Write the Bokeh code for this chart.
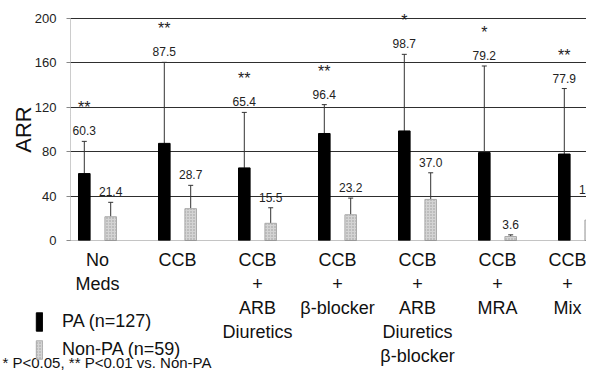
from bokeh.plotting import figure
from bokeh.models import (Range1d, FixedTicker, Whisker, TeeHead, ColumnDataSource,
                          Legend, LegendItem, Label)
from bokeh.core.properties import value
from bokeh.embed import file_html
from bokeh.resources import INLINE

# ---- data ----
categories = ["No\nMeds", "CCB", "CCB\n+\nARB\nDiuretics", "CCB\n+\nβ-blocker",
              "CCB\n+\nARB\nDiuretics\nβ-blocker", "CCB\n+\nMRA", "CCB\n+\nMix"]
pa_mean = [60.3, 87.5, 65.4, 96.4, 98.7, 79.2, 77.9]
pa_sd = [29, 73, 50, 26, 69, 78, 59]
non_mean = [21.4, 28.7, 15.5, 23.2, 37.0, 3.6, 18.4]
non_sd = [13, 21, 14, 15, 24, 1.5, 18]
pa_labels = ["60.3", "87.5", "65.4", "96.4", "98.7", "79.2", "77.9"]
non_labels = ["21.4", "28.7", "15.5", "23.2", "37.0", "3.6", "18.4"]
stars = ["**", "**", "**", "**", "*", "*", "**"]
y_ticks = [0, 40, 80, 120, 160, 200]

FONT = "Liberation Sans"
idx = list(range(len(categories)))
OFF = 0.165
BW = 0.145

# plot-area extents (data units)
X_START = -1.2125
X_AXIS_AT = -0.3375
X_END = 6.1125

pa_src = ColumnDataSource(dict(
    x=[i - OFF for i in idx], top=pa_mean,
    upper=[m + s for m, s in zip(pa_mean, pa_sd)], lab=pa_labels, star=stars))
non_src = ColumnDataSource(dict(
    x=[i + OFF for i in idx], top=non_mean,
    upper=[m + s for m, s in zip(non_mean, non_sd)], lab=non_labels))

p = figure(width=586, height=370, output_backend="svg", toolbar_location=None,
           x_range=Range1d(X_START, X_END), y_range=Range1d(-117.1, 216.2),
           min_border_left=0, min_border_right=0, min_border_top=0,
           min_border_bottom=0)
p.outline_line_color = None
p.background_fill_color = "white"

# gridlines
p.xgrid.visible = False
p.ygrid.ticker = FixedTicker(ticks=y_ticks[1:])
p.ygrid.grid_line_color = "#2e2e2e"
p.ygrid.grid_line_width = 1
p.ygrid.cross_bounds = (X_AXIS_AT, X_END)

# y axis
p.yaxis.fixed_location = X_AXIS_AT
p.yaxis.bounds = (0, 200)
p.yaxis.ticker = FixedTicker(ticks=y_ticks)
p.yaxis.axis_label = "ARR"
p.yaxis.axis_label_text_font = FONT
p.yaxis.axis_label_text_font_size = "22px"
p.yaxis.axis_label_text_font_style = "normal"
p.yaxis.axis_label_text_color = "#111111"
p.yaxis.axis_label_standoff = -4
p.yaxis.major_label_text_font = FONT
p.yaxis.major_label_text_font_size = "13px"
p.yaxis.major_label_text_color = "#222222"
p.yaxis.major_tick_out = 4
p.yaxis.major_tick_in = 0
p.yaxis.major_tick_line_color = "#888888"
p.yaxis.minor_tick_line_color = None
p.yaxis.major_label_standoff = 10
p.yaxis.axis_line_color = "#999999"
p.yaxis.axis_line_dash = "1 1"

# x axis
p.xaxis.fixed_location = 0
p.xaxis.bounds = (X_AXIS_AT, X_END)
p.xaxis.ticker = FixedTicker(ticks=idx)
p.xaxis.major_label_overrides = {i: c for i, c in zip(idx, categories)}
p.xaxis.major_label_text_font = FONT
p.xaxis.major_label_text_font_size = "18px"
p.xaxis.major_label_text_color = "#111111"
p.xaxis.major_label_standoff = 3
p.xaxis.major_tick_line_color = None
p.xaxis.minor_tick_line_color = None
p.xaxis.axis_line_color = "#888888"
p.xaxis.axis_line_dash = "1 1"

# bars
r_pa = p.vbar(x="x", top="top", bottom=0, width=BW, source=pa_src,
              fill_color="black", line_color="black")
r_non = p.vbar(x="x", top="top", bottom=0, width=BW, source=non_src,
               fill_color="#d4d4d4", line_color="#aaaaaa",
               hatch_pattern="dot", hatch_color="#9a9a9a", hatch_scale=3,
               hatch_weight=1)

# error bars (upper only)
for src in (pa_src, non_src):
    p.add_layout(Whisker(source=src, base="x", lower="top", upper="upper",
                         line_color="#333333", line_width=1,
                         upper_head=TeeHead(size=5, line_color="#333333", line_width=1),
                         lower_head=None))

# value labels
for src in (pa_src, non_src):
    p.text(x="x", y="upper", text="lab", source=src, text_align="center",
           text_baseline="bottom", y_offset=-6, text_font=value(FONT),
           text_font_size="12px", text_color="#222222")
# significance stars
p.text(x="x", y="upper", text="star", source=pa_src, text_align="center",
       text_baseline="bottom", y_offset=-25, text_font=value(FONT),
       text_font_size="16px", text_color="#222222")

# legend
legend = Legend(items=[LegendItem(label="PA (n=127)", renderers=[r_pa]),
                       LegendItem(label="Non-PA (n=59)", renderers=[r_non])],
                location=(35, 9), padding=0, margin=0, spacing=5,
                glyph_width=8, glyph_height=23, label_standoff=19,
                label_text_font=FONT, label_text_font_size="18px",
                label_text_color="#111111",
                border_line_color=None, background_fill_alpha=0)
p.add_layout(legend, "center")

p.add_layout(Label(x=2, y=0, x_units="screen", y_units="screen",
                   text="* P<0.05, ** P<0.01 vs. Non-PA", text_font=FONT,
                   text_font_size="15px", text_color="#111111",
                   text_baseline="bottom"))

open("out.html", "w").write(file_html(p, INLINE))
